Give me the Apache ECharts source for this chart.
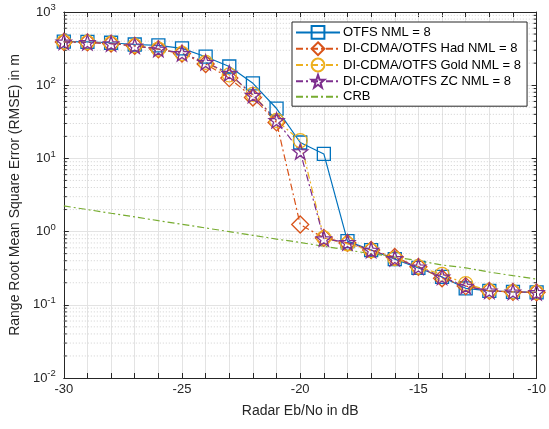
<!DOCTYPE html>
<html>
<head>
<meta charset="utf-8">
<script src="https://cdn.jsdelivr.net/npm/echarts@6/dist/echarts.min.js"></script>
<style>
  html, body { margin: 0; padding: 0; background: #fff; }
  #chart { width: 549px; height: 429px; }
</style>
</head>
<body>
<div id="chart"></div>
<script>
// Radar Eb/No (dB) sweep
const ebno = [-30, -29, -28, -27, -26, -25, -24, -23, -22, -21, -20,
              -19, -18, -17, -16, -15, -14, -13, -12, -11, -10];

// Range RMSE (m) per waveform
const otfs   = [395, 390, 380, 360, 350, 318, 245, 180, 106, 48, 16.5,
                11.5, 0.74, 0.56, 0.42, 0.32, 0.24, 0.168, 0.155, 0.15, 0.148];
const hadam  = [390, 385, 370, 345, 310, 270, 195, 125, 68, 31, 1.25,
                0.82, 0.7, 0.56, 0.45, 0.33, 0.23, 0.18, 0.155, 0.15, 0.148];
const gold   = [390, 385, 372, 348, 312, 272, 205, 138, 75, 33, 17.5,
                0.82, 0.68, 0.55, 0.43, 0.33, 0.26, 0.195, 0.155, 0.15, 0.148];
const zc     = [390, 385, 370, 345, 312, 272, 205, 146, 73, 33, 12.4,
                0.8, 0.71, 0.56, 0.43, 0.33, 0.24, 0.18, 0.155, 0.15, 0.148];
const crb    = [2.24, 2.0, 1.78, 1.59, 1.41, 1.26, 1.12, 1.0, 0.89, 0.79, 0.71,
                0.63, 0.56, 0.5, 0.45, 0.4, 0.35, 0.32, 0.28, 0.25, 0.224];

const seriesNames = ['OTFS NML = 8', 'DI-CDMA/OTFS Had NML = 8',
                     'DI-CDMA/OTFS Gold NML = 8', 'DI-CDMA/OTFS ZC NML = 8', 'CRB'];

const X_MIN = -30, X_MAX = -10, Y_MIN = 0.01, Y_MAX = 1000;
const textColor = '#262626';
const fontFamily = '"Liberation Sans", Arial, Helvetica, sans-serif';
const dashDot = [7, 3, 2, 3];
const starPath = 'path://M0,-10 L2.35,-3.24 L9.51,-3.09 L3.8,1.24 L5.88,8.09 L0,4 L-5.88,8.09 L-3.8,1.24 L-9.51,-3.09 L-2.35,-3.24 Z';

const pairs = arr => ebno.map((x, i) => [x, arr[i]]);

// minor decade positions (2..9 x 10^k) for dotted grid and minor ticks
const minorVals = [];
for (let k = -2; k <= 2; k++) {
  for (let m = 2; m <= 9; m++) minorVals.push([X_MIN, m * Math.pow(10, k)]);
}

function lineSeries(name, data, color, symbol, size, dashed) {
  return {
    name: name,
    type: 'line',
    data: pairs(data),
    symbol: symbol,
    symbolSize: size,
    showSymbol: true,
    lineStyle: { color: color, width: 1.2, type: dashed ? dashDot : 'solid' },
    itemStyle: { color: 'rgba(255,255,255,0)', borderColor: color, borderWidth: 1.3 },
    emphasis: { disabled: true },
    animation: false,
    z: 3
  };
}

const crbSeries = lineSeries(seriesNames[4], crb, '#77AC30', 'none', 0, true);
crbSeries.showSymbol = false;
crbSeries.itemStyle = { color: 'rgba(0,0,0,0)', borderColor: 'rgba(0,0,0,0)', borderWidth: 0 };

const chart = echarts.init(document.getElementById('chart'), null, { renderer: 'canvas' });

const option = {
  backgroundColor: '#ffffff',
  animation: false,
  grid: { left: 61, right: 8, top: 12, bottom: 51, containLabel: false },
  legend: {
    orient: 'vertical',
    left: 292,
    top: 22,
    width: 236,
    padding: [3, 6, 3, 3],
    itemGap: 1.5,
    itemWidth: 44,
    itemHeight: 16,
    backgroundColor: '#ffffff',
    borderColor: '#262626',
    borderWidth: 1,
    borderRadius: 0,
    textStyle: { color: '#000', fontSize: 13, fontFamily: fontFamily, padding: [0, 0, 0, -2] },
    data: seriesNames
  },
  xAxis: [
    {
      type: 'value', min: X_MIN, max: X_MAX, interval: 1,
      position: 'bottom',
      name: 'Radar Eb/No in dB',
      nameLocation: 'middle',
      nameGap: 26,
      nameTextStyle: { color: textColor, fontSize: 14, fontFamily: fontFamily },
      axisLine: { show: true, onZero: false, lineStyle: { color: textColor, width: 1 } },
      axisTick: { show: true, inside: true, length: 5, lineStyle: { color: textColor } },
      axisLabel: {
        color: textColor, fontSize: 13, fontFamily: fontFamily, margin: 5,
        formatter: v => (v % 5 === 0 ? String(v) : '')
      },
      splitLine: { show: true, lineStyle: { color: '#e3e3e3', width: 1 } }
    },
    {
      type: 'value', min: X_MIN, max: X_MAX, interval: 1,
      position: 'top',
      axisLine: { show: true, onZero: false, lineStyle: { color: textColor, width: 1 } },
      axisTick: { show: true, inside: true, length: 5, lineStyle: { color: textColor } },
      axisLabel: { show: false },
      splitLine: { show: false }
    }
  ],
  yAxis: [
    {
      type: 'log', logBase: 10, min: Y_MIN, max: Y_MAX,
      position: 'left',
      name: 'Range Root Mean Square Error (RMSE) in m',
      nameLocation: 'middle',
      nameGap: 37,
      nameTextStyle: { color: textColor, fontSize: 14, fontFamily: fontFamily },
      axisLine: { show: true, onZero: false, lineStyle: { color: textColor, width: 1 } },
      axisTick: { show: true, inside: true, length: 5, lineStyle: { color: textColor } },
      axisLabel: {
        color: textColor, fontFamily: fontFamily, margin: 8,
        formatter: v => '{b|10}{s|' + Math.round(Math.log10(v)) + '}',
        rich: {
          b: { fontSize: 13, fontFamily: fontFamily, color: textColor },
          s: { fontSize: 9.5, fontFamily: fontFamily, color: textColor, padding: [0, 0, 9, 0] }
        }
      },
      splitLine: { show: true, lineStyle: { color: '#e3e3e3', width: 1 } }
    },
    {
      type: 'log', logBase: 10, min: Y_MIN, max: Y_MAX,
      position: 'right',
      axisLine: { show: true, onZero: false, lineStyle: { color: textColor, width: 1 } },
      axisTick: { show: true, inside: true, length: 5, lineStyle: { color: textColor } },
      axisLabel: { show: false },
      splitLine: { show: false }
    }
  ],
  series: [
    {
      // dotted minor grid with minor ticks on both sides
      type: 'custom',
      silent: true,
      xAxisIndex: 0, yAxisIndex: 0,
      data: minorVals,
      encode: { x: 0, y: 1 },
      z: 1,
      renderItem: function (params, api) {
        const v = api.value(1);
        const a = api.coord([X_MIN, v]);
        const b = api.coord([X_MAX, v]);
        return {
          type: 'group',
          children: [
            { type: 'line', shape: { x1: a[0], y1: a[1], x2: b[0], y2: b[1] },
              style: { stroke: '#d0d0d0', lineWidth: 1, lineDash: [1, 2] } },
            { type: 'line', shape: { x1: a[0], y1: a[1], x2: a[0] + 3, y2: a[1] },
              style: { stroke: textColor, lineWidth: 1 } },
            { type: 'line', shape: { x1: b[0] - 3, y1: b[1], x2: b[0], y2: b[1] },
              style: { stroke: textColor, lineWidth: 1 } }
          ]
        };
      }
    },
    lineSeries(seriesNames[0], otfs, '#0072BD', 'rect', 13, false),
    lineSeries(seriesNames[1], hadam, '#D95319', 'diamond', 17, true),
    lineSeries(seriesNames[2], gold, '#EDB120', 'circle', 14, true),
    lineSeries(seriesNames[3], zc, '#7E2F8E', starPath, 15, true),
    crbSeries
  ]
};

chart.setOption(option);
</script>
</body>
</html>
